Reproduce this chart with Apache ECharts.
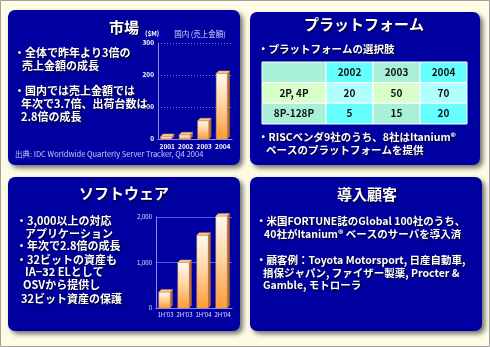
<!DOCTYPE html>
<html>
<head>
<meta charset="utf-8">
<script src="https://cdn.jsdelivr.net/npm/echarts@6/dist/echarts.min.js"></script>
<style>
  html, body { margin: 0; padding: 0; background: #fffce6; }
  #main { width: 490px; height: 347px; }
</style>
</head>
<body>
<div id="main"></div>
<script>
// 市場: 国内 売上金額 ($M)
var marketYears = ['2001', '2002', '2003', '2004'];
var marketSales = [8, 13, 57, 205];

// ソフトウェア: 対応アプリケーション数
var swPeriods = ["1H'03", "2H'03", "1H'04", "2H'04"];
var swApps = [350, 1000, 1600, 2020];

// プラットフォームの選択肢 (表)
var platformYears = ['2002', '2003', '2004'];
var platformRows = ['', '2P, 4P', '8P-128P'];
var platform2P4P = [20, 50, 70];
var platform8P128P = [5, 15, 20];

var FONT = '"Noto Sans CJK JP", "Noto Sans", sans-serif';
var PANEL = '#0000a0';

function panel(x, y, w, h) {
  return {
    type: 'rect', z: 0,
    shape: { x: x, y: y, width: w, height: h, r: 7 },
    style: { fill: PANEL, shadowBlur: 5, shadowOffsetX: 3, shadowOffsetY: 3, shadowColor: 'rgba(0,0,0,0.55)' }
  };
}

function txt(s, x, y, size, opt) {
  opt = opt || {};
  return {
    type: 'text', z: 5,
    style: {
      text: s, x: x, y: y,
      fill: opt.color || '#fff',
      font: (opt.weight || 'bold') + ' ' + size + 'px ' + FONT,
      align: opt.align || 'left', textAlign: opt.align || 'left',
      verticalAlign: 'middle', textVerticalAlign: 'middle',
      textShadowColor: opt.shadow === false ? 'transparent' : 'rgba(0,0,0,0.9)',
      textShadowBlur: 2, textShadowOffsetX: 1, textShadowOffsetY: 1
    }
  };
}

function bar3d(params, api) {
  var v = api.value(1);
  var top = api.coord([api.value(0), v]);
  var base = api.coord([api.value(0), 0]);
  var band = api.size([1, 0])[0];
  var w = band * 0.6, d = 2.5;
  var x0 = top[0] - w / 2 - 1;
  var y0 = top[1], y1 = base[1];
  return {
    type: 'group',
    children: [
      {
        type: 'polygon',
        shape: { points: [[x0 + w, y0], [x0 + w + d, y0 - d], [x0 + w + d, y1 - d], [x0 + w, y1]] },
        style: { fill: '#b86a2a' }
      },
      {
        type: 'rect',
        shape: { x: x0, y: y0, width: w, height: y1 - y0 },
        style: {
          fill: new echarts.graphic.LinearGradient(0, 0, 0, 1, [
            { offset: 0, color: '#fffaf2' },
            { offset: 0.45, color: '#ffd6a6' },
            { offset: 1, color: '#ff9a36' }
          ]),
          stroke: '#d8944c', lineWidth: 0.5
        }
      },
      {
        type: 'polygon',
        shape: { points: [[x0, y0], [x0 + d, y0 - d], [x0 + w + d, y0 - d], [x0 + w, y0]] },
        style: { fill: '#f6cc92', stroke: '#d8944c', lineWidth: 0.5 }
      }
    ]
  };
}

function cellColor(r, c) {
  if (c % 2 === 0) return r === 1 ? '#d8ffc8' : '#a8f0d8';
  return r === 1 ? '#b0ffff' : '#66ffff';
}

function cellItem(colOffset, textOf) {
  return function (params, api) {
    var c = api.value(0), r = api.value(1);
    var p = api.coord([c, r]);
    var s = api.size([1, 1]);
    return {
      type: 'group',
      children: [
        {
          type: 'rect',
          shape: { x: p[0] - s[0] / 2, y: p[1] - s[1] / 2, width: s[0], height: s[1] },
          style: { fill: cellColor(r, c + colOffset), stroke: '#ffffff', lineWidth: 1 }
        },
        {
          type: 'text',
          style: {
            text: textOf(params.dataIndex), x: p[0], y: p[1],
            fill: '#111', font: 'bold 10px ' + FONT,
            align: 'center', verticalAlign: 'middle',
            textAlign: 'center', textVerticalAlign: 'middle'
          }
        }
      ]
    };
  };
}

var headerCells = platformRows.map(function (_, r) { return [0, r]; });
var valueCells = [];
var valueTexts = [];
platformYears.forEach(function (y, c) { valueCells.push([c, 0]); valueTexts.push(y); });
platform2P4P.forEach(function (v, c) { valueCells.push([c, 1]); valueTexts.push(String(v)); });
platform8P128P.forEach(function (v, c) { valueCells.push([c, 2]); valueTexts.push(String(v)); });

function commaFmt(v) { return String(v).replace(/\B(?=(\d{3})+(?!\d))/g, ','); }

var axisLabelStyle = { color: '#ffffff', fontFamily: FONT, fontWeight: 'bold' };
var hiddenAxis = { show: false };

var chart = echarts.init(document.getElementById('main'));
chart.setOption({
  backgroundColor: '#fffce6',
  animation: false,
  grid: [
    { left: 158, top: 43, width: 74, height: 96 },
    { left: 156, top: 217, width: 76, height: 91 },
    { left: 262, top: 62, width: 64, height: 62 },
    { left: 326, top: 62, width: 141, height: 62 }
  ],
  xAxis: [
    {
      gridIndex: 0, type: 'category', data: marketYears,
      axisLine: { lineStyle: { color: '#8a8aff', width: 1 } }, axisTick: { show: false },
      axisLabel: Object.assign({ fontSize: 6.5, margin: 4, interval: 0 }, axisLabelStyle)
    },
    {
      gridIndex: 1, type: 'category', data: swPeriods,
      axisLine: { lineStyle: { color: '#8a8aff', width: 1 } }, axisTick: { show: false },
      axisLabel: { fontSize: 6, margin: 4, interval: 0, color: '#e0e0ff', fontFamily: FONT }
    },
    Object.assign({ gridIndex: 2, type: 'category', data: [''] }, hiddenAxis),
    Object.assign({ gridIndex: 3, type: 'category', data: platformYears }, hiddenAxis)
  ],
  yAxis: [
    {
      gridIndex: 0, type: 'value', min: 0, max: 300, interval: 100,
      axisLine: { show: true, lineStyle: { color: '#8a8aff' } }, axisTick: { show: false },
      splitLine: { lineStyle: { color: '#7a7aff', type: [1, 2] } },
      axisLabel: Object.assign({ fontSize: 6.5, margin: 4 }, axisLabelStyle)
    },
    {
      gridIndex: 1, type: 'value', min: 0, max: 2000, interval: 1000,
      axisLine: { show: true, lineStyle: { color: '#8a8aff' } }, axisTick: { show: false },
      splitLine: { lineStyle: { color: '#5a5af0' } },
      axisLabel: { fontSize: 6, margin: 4, color: '#e0e0ff', fontFamily: FONT, formatter: commaFmt }
    },
    Object.assign({ gridIndex: 2, type: 'category', data: platformRows, inverse: true }, hiddenAxis),
    Object.assign({ gridIndex: 3, type: 'category', data: platformRows, inverse: true }, hiddenAxis)
  ],
  series: [
    {
      type: 'custom', xAxisIndex: 0, yAxisIndex: 0, renderItem: bar3d,
      data: marketSales.map(function (v, i) { return [i, v]; })
    },
    {
      type: 'custom', xAxisIndex: 1, yAxisIndex: 1, renderItem: bar3d,
      data: swApps.map(function (v, i) { return [i, v]; })
    },
    {
      type: 'custom', xAxisIndex: 2, yAxisIndex: 2,
      renderItem: cellItem(0, function (i) { return platformRows[i]; }),
      data: headerCells
    },
    {
      type: 'custom', xAxisIndex: 3, yAxisIndex: 3,
      renderItem: cellItem(1, function (i) { return valueTexts[i]; }),
      data: valueCells
    }
  ],
  graphic: [
    { type: 'rect', z: 0, shape: { x: 0.5, y: 0.5, width: 489, height: 346 }, style: { fill: 'none', stroke: '#a0a0a0', lineWidth: 1 } },
    panel(8, 10, 232, 155),
    panel(250, 12, 230, 153),
    panel(8, 177, 232, 154),
    panel(250, 177, 232, 154),

    // 市場
    txt('市場', 124, 27, 15, { align: 'center' }),
    txt('・全体で昨年より3倍の', 14, 53, 11),
    txt('売上金額の成長', 22, 66, 11),
    txt('・国内では売上金額では', 14, 91, 11),
    txt('年次で3.7倍、出荷台数は', 21, 104, 11),
    txt('2.8倍の成長', 21, 117, 11),
    txt('($M)', 145, 34, 6.5, { shadow: false }),
    txt('国内 (売上金額)', 200, 34, 7.5, { align: 'center', weight: 'normal', color: '#d8d8ff', shadow: false }),
    txt('出典: IDC Worldwide Quarterly Server Tracker, Q4 2004', 15, 154, 7.5, { weight: 'normal', color: '#c8c8ff', shadow: false }),

    // プラットフォーム
    txt('プラットフォーム', 364, 24, 15, { align: 'center' }),
    txt('・プラットフォームの選択肢', 258, 49, 10.5),
    txt('・RISCベンダ9社のうち、8社はItanium®', 258, 137, 10.5),
    txt('ベースのプラットフォームを提供', 266, 150, 10.5),

    // ソフトウェア
    txt('ソフトウェア', 124, 193, 15, { align: 'center' }),
    txt('・3,000以上の対応', 16, 221, 11),
    txt('アプリケーション', 25, 234, 11),
    txt('・年次で2.8倍の成長', 16, 246, 11),
    txt('・32ビットの資産も', 16, 260, 11),
    txt('IA−32 ELとして', 25, 272, 11),
    txt('OSVから提供し', 23, 285, 11),
    txt('32ビット資産の保護', 21, 299, 11),

    // 導入顧客
    txt('導入顧客', 367, 194, 15, { align: 'center' }),
    txt('・米国FORTUNE誌のGlobal 100社のうち、', 256, 221, 10.5),
    txt('40社がItanium® ベースのサーバを導入済', 264, 234, 10.5),
    txt('・顧客例：Toyota Motorsport, 日産自動車,', 256, 260, 10.5),
    txt('損保ジャパン, ファイザー製薬, Procter &', 263, 273, 10.5),
    txt('Gamble, モトローラ', 263, 285, 10.5)
  ]
});
</script>
</body>
</html>
